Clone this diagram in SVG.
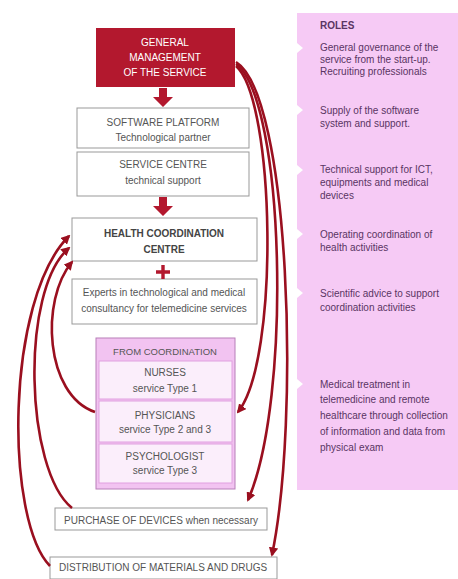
<svg xmlns="http://www.w3.org/2000/svg" width="458" height="579" viewBox="0 0 458 579">
<style>
text{font-family:"Liberation Sans",Arial,sans-serif;font-size:10px;fill:#555;text-anchor:middle}
.w{fill:#fff}
.b{font-weight:bold;fill:#444}
.r{fill:#5a3563;text-anchor:start}
.box{fill:#fff;stroke:#999;stroke-width:1}
.con{fill:none;stroke:#9a0f1f;stroke-width:2.6}
.blk{fill:#b3182e}
.sec{fill:#fbeefb;stroke:#e0a0e0;stroke-width:1}
</style>
<defs>
<marker id="ah" viewBox="0 0 10 10" refX="8" refY="5" markerWidth="3.6" markerHeight="3.6" orient="auto" markerUnits="strokeWidth">
<path d="M0,0 L10,5 L0,10 Z" fill="#9a0f1f"/>
</marker>
</defs>
<rect width="458" height="579" fill="#fff"/>
<g id="roles">
<rect x="297" y="13" width="161" height="477" fill="#f6caf5"/>
<path d="M297,43 L303,48 L297,53 Z M297,105 L303,110 L297,115 Z M297,165 L303,170 L297,175 Z M297,229 L303,234 L297,239 Z M297,288 L303,293 L297,298 Z M297,379 L303,384 L297,389 Z" fill="#fff"/>
<text class="r" x="320" y="29" style="font-weight:bold">ROLES</text>
<text class="r" x="320" y="51">General governance of the</text>
<text class="r" x="320" y="63">service from the start-up.</text>
<text class="r" x="320" y="75">Recruiting professionals</text>
<text class="r" x="320" y="114">Supply of the software</text>
<text class="r" x="320" y="127">system and support.</text>
<text class="r" x="320" y="173">Technical support for ICT,</text>
<text class="r" x="320" y="186">equipments and medical</text>
<text class="r" x="320" y="199">devices</text>
<text class="r" x="320" y="238">Operating coordination of</text>
<text class="r" x="320" y="251">health activities</text>
<text class="r" x="320" y="297">Scientific advice to support</text>
<text class="r" x="320" y="311">coordination activities</text>
<text class="r" x="320" y="388">Medical treatment in</text>
<text class="r" x="320" y="403">telemedicine and remote</text>
<text class="r" x="320" y="419">healthcare through collection</text>
<text class="r" x="320" y="435">of information and data from</text>
<text class="r" x="320" y="451">physical exam</text>
</g>
<g id="gm">
<rect x="96" y="28" width="139" height="59" class="blk"/>
<text class="w" x="165" y="46">GENERAL</text>
<text class="w" x="165" y="61">MANAGEMENT</text>
<text class="w" x="165" y="76">OF THE SERVICE</text>
</g>
<g id="sw">
<rect x="77" y="108" width="172" height="40" class="box"/>
<text x="163" y="126">SOFTWARE PLATFORM</text>
<text x="163" y="141">Technological partner</text>
</g>
<g id="sc">
<rect x="77" y="152" width="172" height="44" class="box"/>
<text x="163" y="168">SERVICE CENTRE</text>
<text x="163" y="184">technical support</text>
</g>
<g id="hcc">
<rect x="72" y="218" width="185" height="43" class="box"/>
<text class="b" x="164" y="237">HEALTH COORDINATION</text>
<text class="b" x="164" y="253">CENTRE</text>
</g>
<g id="experts">
<rect x="72" y="279" width="185" height="45" class="box"/>
<text x="164" y="296">Experts in technological and medical</text>
<text x="164" y="312">consultancy for telemedicine services</text>
</g>
<g id="fromcoord">
<rect x="96" y="338" width="139" height="151" fill="#f2c3f1" stroke="#b77fb8" stroke-width="1"/>
<text x="165" y="355" style="font-size:9.5px">FROM COORDINATION</text>
<rect x="99" y="361" width="133" height="38" class="sec"/>
<rect x="99" y="401" width="133" height="41" class="sec"/>
<rect x="99" y="444" width="133" height="39" class="sec"/>
<text x="165" y="376">NURSES</text>
<text x="165" y="392">service Type 1</text>
<text x="165" y="419">PHYSICIANS</text>
<text x="165" y="433">service Type 2 and 3</text>
<text x="165" y="460">PSYCHOLOGIST</text>
<text x="165" y="474">service Type 3</text>
</g>
<g id="purchase">
<rect x="55" y="508" width="212" height="22" class="box"/>
<text x="161" y="524">PURCHASE OF DEVICES when necessary</text>
</g>
<g id="distribution">
<rect x="50" y="557" width="227" height="22" class="box"/>
<text x="163" y="571">DISTRIBUTION OF MATERIALS AND DRUGS</text>
</g>
<g id="connectors">
<path class="blk" d="M159,88 H167 V97 H173 L163,107 L153,97 H159 Z"/>
<path class="blk" d="M159,197 H167 V206 H173 L163,216 L153,206 H159 Z"/>
<path class="blk" d="M161.3,265 H164.7 V270.3 H170 V273.7 H164.7 V279 H161.3 V273.7 H156 V270.3 H161.3 Z"/>
<path class="con" marker-end="url(#ah)" d="M236,66 C275,100 280,360 238,412"/>
<path class="con" marker-end="url(#ah)" d="M236,64 C285,100 292,400 248,500"/>
<path class="con" marker-end="url(#ah)" d="M236,62 C290,95 300,420 272,555"/>
<path class="con" marker-end="url(#ah)" d="M50,566 C5,520 5,300 69,236"/>
<path class="con" marker-end="url(#ah)" d="M72,508 C25,470 20,290 69,248"/>
<path class="con" marker-end="url(#ah)" d="M95,412 C45,395 40,300 72,262"/>
</g>
</svg>
